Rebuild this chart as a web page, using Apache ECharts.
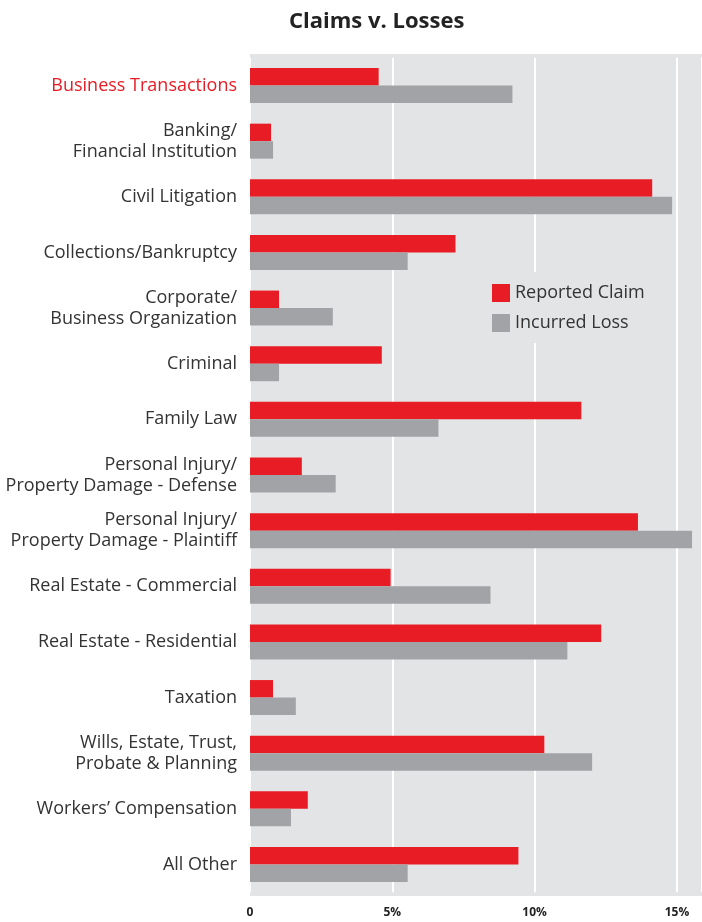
<!DOCTYPE html>
<html>
<head>
<meta charset="utf-8">
<script src="https://cdn.jsdelivr.net/npm/echarts@6/dist/echarts.min.js"></script>
<style>
html,body{margin:0;padding:0;background:#fff;}
#chart{width:702px;height:922px;}
</style>
</head>
<body>
<div id="chart"></div>
<script>
const categories = [
  'Business Transactions',
  'Banking/\nFinancial Institution',
  'Civil Litigation',
  'Collections/Bankruptcy',
  'Corporate/\nBusiness Organization',
  'Criminal',
  'Family Law',
  'Personal Injury/\nProperty Damage - Defense',
  'Personal Injury/\nProperty Damage - Plaintiff',
  'Real Estate - Commercial',
  'Real Estate - Residential',
  'Taxation',
  'Wills, Estate, Trust,\nProbate & Planning',
  'Workers\u2019 Compensation',
  'All Other'
];
const reportedClaim = [4.52, 0.74, 14.13, 7.22, 1.02, 4.63, 11.64, 1.82, 13.63, 4.94, 12.34, 0.81, 10.34, 2.03, 9.43];
const incurredLoss  = [9.22, 0.81, 14.83, 5.54, 2.91, 1.02, 6.62, 3.01, 15.53, 8.45, 11.15, 1.61, 12.02, 1.44, 5.54];
const seriesNames = ['Reported Claim', 'Incurred Loss'];
const xTicks = [0, 5, 10, 15];

const RED = '#e81c24', GRAY = '#a2a3a6', BG = '#e3e4e6';
const FONT = '"Open Sans", Lato, sans-serif';

const chart = echarts.init(document.getElementById('chart'));
chart.setOption({
  animation: false,
  title: {
    text: 'Claims v. Losses',
    left: 284, top: 6,
    textStyle: {fontFamily: FONT, fontWeight: 'bold', fontSize: 22, color: '#222'}
  },
  graphic: [{
    type: 'rect', z: -10, silent: true,
    shape: {x: 250, y: 54, width: 460, height: 842},
    style: {fill: BG}
  }],
  legend: {
    orient: 'vertical',
    left: 480, top: 272,
    padding: [12, 14, 11, 12],
    backgroundColor: BG,
    itemWidth: 18, itemHeight: 18, itemGap: 12,
    icon: 'rect',
    textStyle: {fontFamily: FONT, fontSize: 18, color: '#333'},
    data: seriesNames
  },
  grid: {left: 250, right: -1, top: 57.7, height: 834.6, containLabel: false},
  xAxis: {
    type: 'value', min: 0, max: 15.88, interval: 5,
    axisLine: {show: false}, axisTick: {show: false},
    splitLine: {show: true, lineStyle: {color: '#ffffff', width: 2}},
    axisLabel: {
      margin: 14, showMaxLabel: false,
      fontFamily: FONT, fontWeight: 'bold', fontSize: 12, color: '#222',
      formatter: v => (xTicks.indexOf(v) < 0 ? '' : (v === 0 ? '0' : v + '%'))
    }
  },
  yAxis: {
    type: 'category', inverse: true, data: categories,
    axisLine: {show: false}, axisTick: {show: false}, splitLine: {show: false},
    axisLabel: {
      margin: 13, fontFamily: FONT, fontSize: 18, lineHeight: 21,
      color: (v, i) => (i === 0 ? RED : '#333')
    }
  },
  series: [
    {name: seriesNames[0], type: 'bar', data: reportedClaim, barWidth: 17.5, barGap: '0%', itemStyle: {color: RED}},
    {name: seriesNames[1], type: 'bar', data: incurredLoss, barWidth: 17.5, barGap: '0%', itemStyle: {color: GRAY}}
  ]
});
</script>
</body>
</html>
